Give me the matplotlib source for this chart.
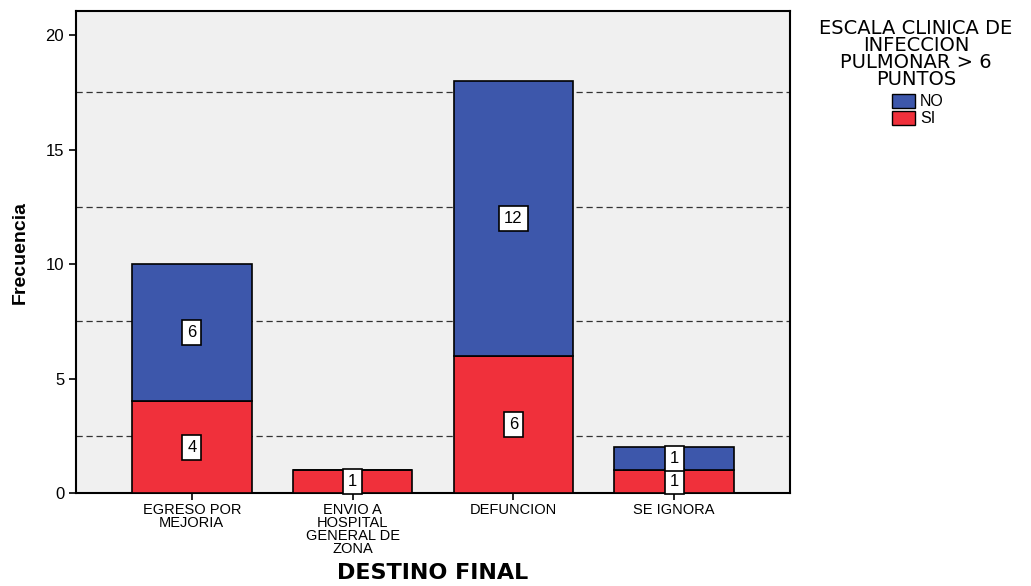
import matplotlib
matplotlib.use("Agg")
import matplotlib.pyplot as plt
from matplotlib.patches import Patch

categories = ["EGRESO POR\nMEJORIA", "ENVIO A\nHOSPITAL\nGENERAL DE\nZONA", "DEFUNCION", "SE IGNORA"]
si_values = [4, 1, 6, 1]
no_values = [6, 0, 12, 1]
yticks = [0, 5, 10, 15, 20]

blue = "#3d57ab"
red = "#f0303b"

plt.rcParams['font.family'] = ['Liberation Sans', 'DejaVu Sans']

fig = plt.figure(figsize=(10.31, 5.86), dpi=100)
ax = fig.add_axes([76/1031, 1-493/586, (790-76)/1031, (493-11)/586])
ax.set_facecolor("#f0f0f0")

x = list(range(len(categories)))
w = 0.745
ax.bar(x, si_values, width=w, color=red, edgecolor="black", linewidth=1.2, zorder=3)
ax.bar(x, no_values, width=w, bottom=si_values, color=blue, edgecolor="black", linewidth=1.2, zorder=3)

box = dict(boxstyle="square,pad=0.3", facecolor="white", edgecolor="black", linewidth=1.2)
for xi, s, n in zip(x, si_values, no_values):
    if s > 0:
        ax.text(xi, s/2, str(s), ha="center", va="center", fontsize=12, bbox=box, zorder=5)
    if n > 0:
        ax.text(xi, s + n/2, str(n), ha="center", va="center", fontsize=12, bbox=box, zorder=5)

for g in [2.5, 7.5, 12.5, 17.5]:
    ax.axhline(g, color="#333333", linestyle=(0, (5, 3)), linewidth=0.9, zorder=1)

ax.set_xlim(-0.72, 3.72)
ax.set_ylim(0, 21.05)
ax.set_yticks(yticks)
ax.set_yticklabels([str(t) for t in yticks], fontsize=12)
ax.set_xticks(x)
ax.set_xticklabels(categories, fontsize=10.5, linespacing=0.92)
ax.tick_params(axis="both", direction="out", length=5, width=1.2, color="black")
ax.tick_params(axis="x", pad=2)
for sp in ax.spines.values():
    sp.set_linewidth(1.5)

ax.set_ylabel("Frecuencia", fontsize=14, fontweight="bold", fontfamily=["Liberation Sans Narrow", "Liberation Sans"], labelpad=12)
fig.text(433/1031, 1-573/586, "DESTINO FINAL", ha="center", va="center", fontsize=16,
         fontweight="bold", fontfamily=["DejaVu Sans"])

fig.text(916/1031, 1-54/586, "ESCALA CLINICA DE\nINFECCION\nPULMONAR > 6\nPUNTOS", ha="center", va="center",
         fontsize=14, linespacing=0.86, fontfamily=["DejaVu Sans"])
handles = [Patch(facecolor=blue, edgecolor="black", label="NO"),
           Patch(facecolor=red, edgecolor="black", label="SI")]
fig.legend(handles=handles, loc="upper left", bbox_to_anchor=(892/1031, 1-94/586), frameon=False,
           fontsize=11.5, handlelength=1.45, handleheight=0.95, handletextpad=0.3, labelspacing=0.1,
           borderpad=0, borderaxespad=0)

fig.savefig("out.png", dpi=100)
